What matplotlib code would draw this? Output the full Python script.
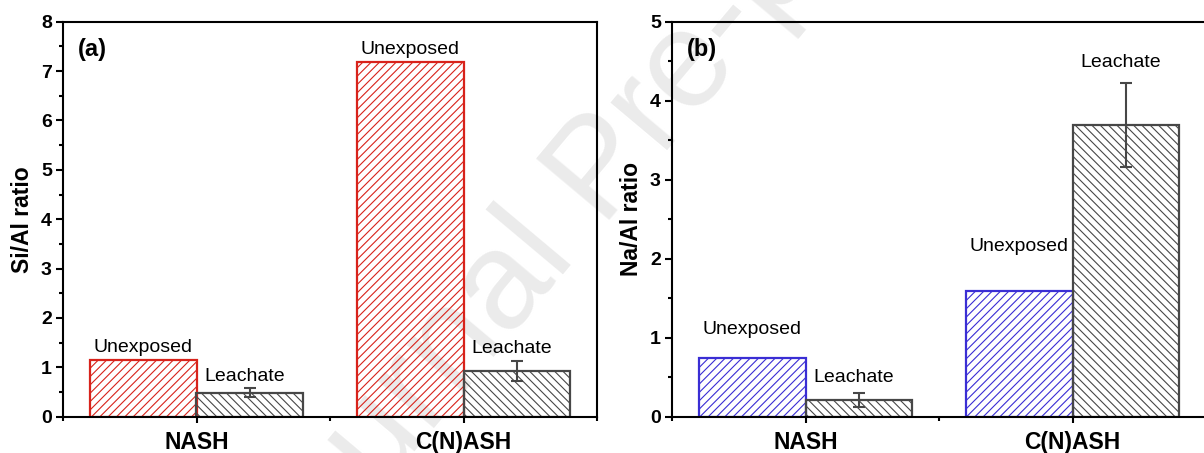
import numpy as np
import matplotlib.pyplot as plt
from matplotlib.ticker import MultipleLocator

plt.rcParams['font.family'] = ['Liberation Sans', 'DejaVu Sans']
plt.rcParams['hatch.linewidth'] = 0.8

# composition ratios from EDS
groups = ['NASH', 'C(N)ASH']
samples = ['Unexposed', 'Leachate']

si_al_unexposed = [1.15, 7.19]
si_al_leachate = [0.49, 0.93]
si_al_leachate_err = [0.10, 0.20]

na_al_unexposed = [0.74, 1.59]
na_al_leachate = [0.21, 3.69]
na_al_leachate_err = [0.085, 0.53]

# where the sample names sit (data units), [unexposed, leachate]
si_label_y = [[1.40, 7.44], [0.81, 1.38]]
na_label_y = [[1.11, 2.16], [0.50, 4.48]]

W, H = 1204, 453
fig = plt.figure(figsize=(W / 100, H / 100), dpi=100)

fig.text(0.50, 0.62, 'Journal Pre-proof', rotation=50, color='#ebebeb',
         fontsize=100, ha='center', va='center', zorder=-1)

ax1 = fig.add_axes([63 / W, 36.3 / H, 534 / W, 395 / H])
ax2 = fig.add_axes([672 / W, 36.3 / H, 534 / W, 395 / H])

x = np.arange(1, len(groups) + 1)
width = 0.4
grey = '#474747'


def draw_panel(ax, unexp, leach, err, color, label_y, ylabel, ymax, tag):
    ax.patch.set_alpha(0)
    ax.bar(x - width / 2, unexp, width, facecolor='none', edgecolor=color,
           hatch='////', linewidth=1.6, zorder=2)
    ax.bar(x + width / 2, leach, width, facecolor='none', edgecolor=grey,
           hatch='\\\\\\\\', linewidth=1.6, zorder=2)
    ax.errorbar(x + width / 2, leach, yerr=err, fmt='none', ecolor=grey,
                elinewidth=1.5, capsize=4, capthick=1.5, zorder=3)

    for i in range(len(groups)):
        ax.text(x[i] - width / 2, label_y[0][i], samples[0], ha='center',
                va='center', fontsize=14)
        ax.text(x[i] + width / 2 - 0.02, label_y[1][i], samples[1], ha='center',
                va='center', fontsize=14)

    ax.set_xlim(0.5, 2.5)
    ax.set_ylim(0, ymax)
    ax.set_xticks(x)
    ax.set_xticklabels(groups, fontsize=16.5, fontweight='bold')
    ax.xaxis.set_minor_locator(MultipleLocator(0.5))
    ax.yaxis.set_major_locator(MultipleLocator(1))
    ax.yaxis.set_minor_locator(MultipleLocator(0.5))
    for lab in ax.get_yticklabels():
        lab.set_fontweight('bold')
        lab.set_fontsize(14)
    ax.tick_params(axis='y', which='major', length=5, width=1.5, pad=3)
    ax.tick_params(axis='y', which='minor', length=2.6, width=1.5)
    ax.tick_params(axis='x', which='major', length=4, width=1.5, pad=6)
    ax.tick_params(axis='x', which='minor', length=2.6, width=1.5)
    for sp in ax.spines.values():
        sp.set_linewidth(1.5)
    ax.set_ylabel(ylabel, fontsize=16.5, fontweight='bold', labelpad=5)
    ax.text(0.028, 0.93, tag, transform=ax.transAxes, fontsize=17,
            fontweight='bold', ha='left', va='center')


draw_panel(ax1, si_al_unexposed, si_al_leachate, si_al_leachate_err,
           '#d8231b', si_label_y, 'Si/Al ratio', 8, '(a)')
draw_panel(ax2, na_al_unexposed, na_al_leachate, na_al_leachate_err,
           '#3a2ed4', na_label_y, 'Na/Al ratio', 5, '(b)')

fig.savefig('out.png', dpi=100)
